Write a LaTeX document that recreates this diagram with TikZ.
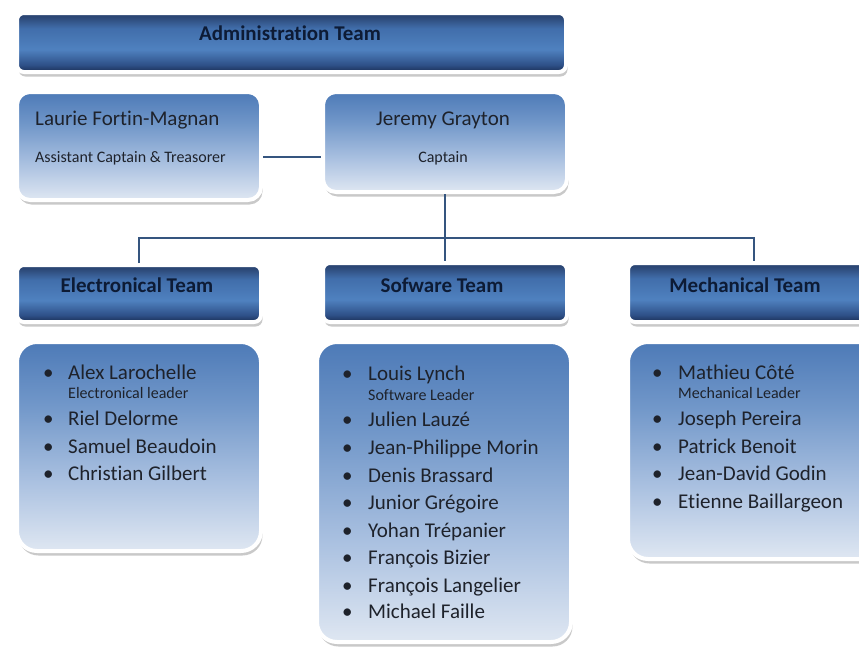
\documentclass[tikz,border=0pt]{standalone}
\usepackage{fontspec}
\setmainfont{Carlito}[RawFeature=-liga]
\usetikzlibrary{shadows}
\definecolor{hB}{HTML}{1B2F55}
\definecolor{hTwo}{HTML}{2E5088}
\definecolor{hL}{HTML}{4F81BF}
\definecolor{hThree}{HTML}{416EAB}
\definecolor{hT}{HTML}{2B4674}
\definecolor{mB}{HTML}{DFE7F2}
\definecolor{mMid}{HTML}{A9C0E0}
\definecolor{mUp}{HTML}{7197C9}
\definecolor{mT}{HTML}{4D7AB7}
\definecolor{lineC}{HTML}{35557F}
\definecolor{nameC}{HTML}{1E222B}
\definecolor{hdrTxt}{HTML}{0D1B35}
\pgfdeclareverticalshading{hdrshade}{100bp}{color(0bp)=(hB); color(25bp)=(hB); color(31bp)=(hTwo); color(44bp)=(hL); color(62bp)=(hThree); color(72bp)=(hT); color(75bp)=(hT); color(100bp)=(hT)}
\pgfdeclareverticalshading{memshade}{100bp}{color(0bp)=(mB); color(25bp)=(mB); color(42bp)=(mMid); color(60bp)=(mUp); color(75bp)=(mT); color(100bp)=(mT)}
\tikzset{
  boxbase/.style={rectangle, anchor=north west, draw=white, line width=4pt, inner sep=0pt,
    drop shadow={shadow xshift=1.5pt, shadow yshift=-4.5pt, opacity=0.3, fill=black!70}},
  hdrbox/.style={boxbase, rounded corners=7pt, shading=hdrshade},
  membox/.style={boxbase, rounded corners=20pt, shading=memshade},
  persbox/.style={boxbase, rounded corners=13pt, shading=memshade},
  hdrtext/.style={anchor=base, inner sep=0pt, text=hdrTxt, font=\bfseries\fontsize{21}{25}\selectfont},
  nametext/.style={anchor=base west, inner sep=0pt, text=nameC, font=\fontsize{21}{25}\selectfont},
  cnametext/.style={anchor=base, inner sep=0pt, text=nameC, font=\fontsize{21}{25}\selectfont},
  subtext/.style={anchor=base west, inner sep=0pt, text=nameC, font=\fontsize{16}{19}\selectfont},
  csubtext/.style={anchor=base, inner sep=0pt, text=nameC, font=\fontsize{16}{19}\selectfont},
  bullettext/.style={anchor=base west, inner sep=0pt, text=nameC, font=\fontsize{21}{25}\selectfont},
  conn/.style={draw=lineC, line width=1.1pt}
}
\newcommand\itm[5]{%
  \node[bullettext] (#1b) at (#2,#4) {\textbullet};
  \node[nametext] (#1) at (#3,#4) {#5};}
\begin{document}
\begin{tikzpicture}[x=1pt,y=-1pt]
\useasboundingbox (0,0) rectangle (859,646);
\clip (0,0) rectangle (859,646);
% boxes
\node[hdrbox, minimum width=549pt, minimum height=59pt] (admin) at (15,11) {};
\node[persbox, minimum width=244pt, minimum height=108pt] (laurie) at (15,90) {};
\node[persbox, minimum width=244pt, minimum height=100pt] (jeremy) at (321,90) {};
\node[hdrbox, minimum width=244pt, minimum height=57pt] (elecH) at (15,263) {};
\node[hdrbox, minimum width=244pt, minimum height=59pt] (softH) at (321,261) {};
\node[hdrbox, minimum width=252pt, minimum height=59pt] (mechH) at (626,261) {};
\node[membox, minimum width=244pt, minimum height=209pt] (elecM) at (15,340) {};
\node[membox, minimum width=254pt, minimum height=300pt] (softM) at (315,340) {};
\node[membox, minimum width=256pt, minimum height=217pt] (mechM) at (626,340) {};
% connectors
\coordinate (cy) at (0,157);
\coordinate (bus) at (0,238);
\draw[conn] (laurie.east |- cy) -- (jeremy.west |- cy);
\draw[conn] (jeremy.south) -- (softH.north);
\draw[conn] (elecH.north) -- (elecH.north |- bus) -- (mechH.north |- bus) -- (mechH.north);
% header texts
\node[hdrtext] (adminT) at (290,40) {Administration Team};
\node[hdrtext] (elecT) at (137,292) {Electronical Team};
\node[hdrtext] (softT) at (442,292) {Sofware Team};
\node[hdrtext] (mechT) at (745,292) {Mechanical Team};
% persons
\node[nametext] (laurieN) at (35,125) {Laurie Fortin-Magnan};
\node[subtext] (laurieS) at (35,162) {Assistant Captain \& Treasorer};
\node[cnametext] (jeremyN) at (443,125) {Jeremy Grayton};
\node[csubtext] (jeremyS) at (443,162) {Captain};
% electronical
\itm{e1}{43}{68}{379}{Alex Larochelle}
\node[subtext] (e1s) at (68,398) {Electronical leader};
\itm{e2}{43}{68}{425}{Riel Delorme}
\itm{e3}{43}{68}{453}{Samuel Beaudoin}
\itm{e4}{43}{68}{480}{Christian Gilbert}
% software
\itm{s1}{342}{368}{380}{Louis Lynch}
\node[subtext] (s1s) at (368,400) {Software Leader};
\itm{s2}{342}{368}{426}{Julien Lauzé}
\itm{s3}{342}{368}{454}{Jean-Philippe Morin}
\itm{s4}{342}{368}{482}{Denis Brassard}
\itm{s5}{342}{368}{509}{Junior Grégoire}
\itm{s6}{342}{368}{537}{Yohan Trépanier}
\itm{s7}{342}{368}{564}{François Bizier}
\itm{s8}{342}{368}{592}{François Langelier}
\itm{s9}{342}{368}{618}{Michael Faille}
% mechanical
\itm{m1}{652}{678}{379}{Mathieu Côté}
\node[subtext] (m1s) at (678,398) {Mechanical Leader};
\itm{m2}{652}{678}{425}{Joseph Pereira}
\itm{m3}{652}{678}{453}{Patrick Benoit}
\itm{m4}{652}{678}{480}{Jean-David Godin}
\itm{m5}{652}{678}{508}{Etienne Baillargeon}
\end{tikzpicture}
\end{document}
